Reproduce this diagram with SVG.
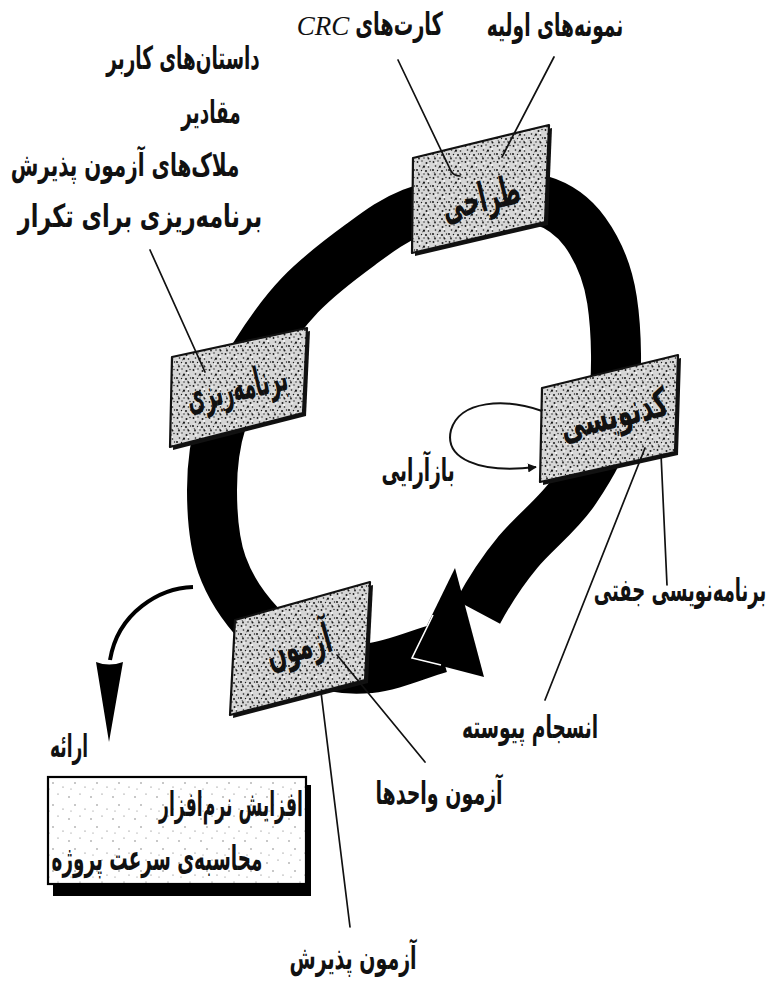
<svg xmlns="http://www.w3.org/2000/svg" width="771" height="988" viewBox="0 0 771 988">
<style>
.t{font-family:"DejaVu Sans",sans-serif;font-weight:bold;fill:#111;text-anchor:middle;font-size:20px;}
.b{font-size:24px;}
.lead{fill:none;stroke:#111;stroke-width:1.7;stroke-linecap:round;}
.box{fill:url(#stip);stroke:#111;stroke-width:2.2;stroke-linejoin:round;}
.sh{fill:#111;}
</style>
<defs>
<pattern id="stip" width="16" height="16" patternUnits="userSpaceOnUse">
<rect width="16" height="16" fill="#d6d6d6"/>
<g fill="#1a1a1a">
<circle cx="1.5" cy="2" r="0.9"/><circle cx="6" cy="1" r="0.7"/><circle cx="10.5" cy="3" r="1"/><circle cx="14" cy="1.5" r="0.7"/>
<circle cx="3.5" cy="6" r="0.8"/><circle cx="8" cy="6.5" r="1.1"/><circle cx="12.5" cy="7" r="0.8"/><circle cx="1" cy="10" r="1"/>
<circle cx="5.5" cy="10.5" r="0.7"/><circle cx="10" cy="11" r="1"/><circle cx="14.5" cy="10" r="0.7"/><circle cx="3" cy="14.5" r="0.9"/>
<circle cx="8" cy="14" r="0.7"/><circle cx="12.5" cy="14.5" r="1"/>
</g>
<g fill="#fff">
<circle cx="4" cy="3" r="0.8"/><circle cx="12" cy="5" r="0.9"/><circle cx="7" cy="12" r="0.8"/><circle cx="2" cy="8" r="0.6"/><circle cx="14" cy="13" r="0.7"/>
</g>
<path d="M6 8 l3 -1 M11 13 l2 1 M2 12 l1 2" stroke="#333" stroke-width="0.7"/>
</pattern>
<pattern id="sparse" width="22" height="22" patternUnits="userSpaceOnUse">
<rect width="22" height="22" fill="#fff"/>
<g fill="#666"><circle cx="3" cy="5" r="0.7"/><circle cx="14" cy="2" r="0.6"/><circle cx="9" cy="13" r="0.7"/><circle cx="19" cy="17" r="0.6"/><circle cx="5" cy="19" r="0.5"/></g>
</pattern>
<marker id="ah" viewBox="0 0 10 10" refX="9" refY="5" markerWidth="9" markerHeight="9" markerUnits="userSpaceOnUse" orient="auto">
<path d="M0 0 L10 5 L0 10 Z" fill="#111"/>
</marker>
</defs>

<g id="connectors">
<path id="cycle" fill="none" stroke="#000" stroke-width="50" d="M478 612 C488.7 592 501.2 572.3 518 552 C534.8 531.7 559.3 513.7 575 490 C590.7 466.3 605.8 441.7 612 410 C618.2 378.3 616.5 329.7 612 300 C607.5 270.3 597 248.7 585 232 C573 215.3 558.3 205.3 540 200 C521.7 194.7 496.3 197.8 475 200 C453.7 202.2 431.2 205.5 412 213 C392.8 220.5 378.7 231.3 360 245 C341.3 258.7 317.5 276.7 300 295 C282.5 313.3 268 334.2 255 355 C242 375.8 229.2 397.5 222 420 C214.8 442.5 212 465.8 212 490 C212 514.2 214 542.5 222 565 C230 587.5 245.3 609.2 260 625 C274.7 640.8 291.7 652.8 310 660 C328.3 667.2 348.3 670 370 668 C391.7 666 416.7 654.7 440 648"/>
<polygon id="cycle-head" points="455,568 411,658 484,677" fill="#000"/>
<polyline points="433,615 412,658 441,665" fill="none" stroke="#fff" stroke-width="1.6"/>
<path id="refactor-loop" d="M542 411 C505 398 460 400 451 430 C444 458 478 474 536 467" fill="none" stroke="#111" stroke-width="2" marker-end="url(#ah)"/>
<path id="release-arrow" d="M193 587 C160 588 118 612 110 660" fill="none" stroke="#000" stroke-width="4"/>
<path d="M96 662 Q109 667 123 662 L109 742 Z" fill="#000"/>
</g>

<g id="node-planning">
<polygon class="sh" points="175,360 310,331 306,416 173,450"/>
<polygon class="box" points="172,357 307,328 303,413 170,447"/>
<text class="t b" direction="rtl" transform="translate(237,389) rotate(-13) scale(0.78,1.7) translate(0,7)">برنامه&#8204;ریزی</text>
</g>
<g id="node-design">
<polygon class="sh" points="416,161 552,128 548,225 415,256"/>
<polygon class="box" points="413,158 549,125 545,222 412,253"/>
<text class="t b" direction="rtl" transform="translate(481,200) rotate(-13.6) scale(0.91,1.7) translate(0,7)">طراحی</text>
</g>
<g id="node-coding">
<polygon class="sh" points="545,391 681,358 678,455 543,485"/>
<polygon class="box" points="542,388 678,355 675,452 540,482"/>
<text class="t b" direction="rtl" transform="translate(614,416) rotate(-13.6) scale(1.0,1.7) translate(0,7)">کدنویسی</text>
</g>
<g id="node-testing">
<polygon class="sh" points="238,623 373,585 368,683 233,718"/>
<polygon class="box" points="235,620 370,582 365,680 230,715"/>
<text class="t b" direction="rtl" transform="translate(299,648) rotate(-15.7) scale(0.92,1.7) translate(0,7)">آزمون</text>
</g>
<g id="node-release">
<rect x="53" y="785" width="258" height="111" fill="#000"/>
<rect x="48" y="777" width="258" height="107" fill="url(#sparse)" stroke="#000" stroke-width="2.2"/>
<text class="t" direction="rtl" transform="translate(231,816) scale(0.86,1.7)">افزایش نرم&#8204;افزار</text>
<text class="t" direction="rtl" transform="translate(157,870) scale(0.92,1.7)">محاسبه&#8204;ی سرعت پروژه</text>
</g>

<g id="leaders">
<path class="lead" d="M398 60 L451 171 Q454 176 460 176"/>
<path class="lead" d="M554 57 L502 157"/>
<path class="lead" d="M150 250 L205 372"/>
<path class="lead" d="M661 454 L667 585"/>
<path class="lead" d="M645 448 L545 700"/>
<path class="lead" d="M337 655 L425 762"/>
<path class="lead" d="M321 692 L350 927"/>
</g>

<g id="labels">
<text class="t" direction="rtl" transform="translate(399,35) scale(0.97,1.6)">کارت&#8204;های</text>
<text x="323" y="35" font-size="27" font-style="italic" font-family="Liberation Serif, serif" fill="#111" text-anchor="middle">CRC</text>
<text class="t" direction="rtl" transform="translate(555,36) scale(0.93,1.6)">نمونه&#8204;های اولیه</text>
<text class="t" direction="rtl" transform="translate(183,69) scale(0.92,1.6)">داستان&#8204;های کاربر</text>
<text class="t" direction="rtl" transform="translate(211,123) scale(0.92,1.6)">مقادیر</text>
<text class="t" direction="rtl" transform="translate(125,176) scale(1,1.6)">ملاک&#8204;های آزمون پذیرش</text>
<text class="t" direction="rtl" transform="translate(140,227) scale(1.12,1.6)">برنامه&#8204;ریزی برای تکرار</text>
<text class="t" direction="rtl" transform="translate(418,481) scale(0.92,1.6)">بازآرایی</text>
<text class="t" direction="rtl" transform="translate(680,601) scale(0.9,1.6)">برنامه&#8204;نویسی جفتی</text>
<text class="t" direction="rtl" transform="translate(530,738) scale(0.93,1.6)">انسجام پیوسته</text>
<text class="t" direction="rtl" transform="translate(439,804) scale(0.95,1.6)">آزمون واحدها</text>
<text class="t" direction="rtl" transform="translate(353,969) scale(0.95,1.6)">آزمون پذیرش</text>
<text class="t" direction="rtl" transform="translate(69,757) scale(0.85,1.6)">ارائه</text>
</g>
</svg>
